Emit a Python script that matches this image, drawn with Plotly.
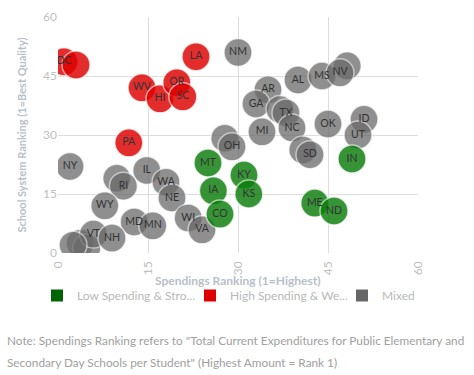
import plotly.graph_objects as go

# Low Spending & Strong Quality (green)
green_states = ["MT", "IA", "CO", "KY", "KS", "ME", "ND", "IN"]
green_spend = [25, 25.9, 27, 31, 31.8, 42.8, 46, 49]
green_quality = [22.9, 15.8, 9.9, 19.8, 15, 12.7, 10.7, 23.9]

# High Spending & Weak Quality (red)
red_states = ["DC", "AK", "WV", "HI", "OR", "SC", "LA", "PA"]
red_spend = [1, 3, 14, 17, 19.8, 20.8, 23, 11.8]
red_quality = [48.6, 47.8, 42, 39.2, 43.3, 39.7, 49.9, 28]

# Mixed (gray)
gray_states = ["NM", "AZ", "AL", "MS", "NV", "AR", "GA", "FL", "TX", "NC", "MI",
               "OK", "ID", "UT", "DE", "SD", "MO", "OH", "NY", "CT", "IL", "RI",
               "WA", "NE", "WY", "MD", "MN", "WI", "VA", "MA", "NJ", "VT", "NH", "ME2"]
gray_spend = [30, 48.2, 40, 44, 47, 35, 33, 37, 38, 39, 34,
              45, 51, 50, 40.8, 42, 27.8, 29, 2, 9.8, 14.8, 10.9,
              18, 19, 7.8, 12.7, 15.8, 21.7, 24, 3.7, 4.8, 5.9, 9, 2.5]
gray_quality = [51, 47.6, 44, 45, 45.8, 41.5, 37.9, 36.5, 35.6, 31.8, 30.8,
                32.8, 34, 30, 26.2, 25, 29.2, 27, 22, 19, 21, 17,
                18, 14, 12, 7.9, 6.9, 8.9, 5.9, 2.5, 1.3, 4.8, 3.8, 2]

# labels that are covered by neighbouring circles in the original
hidden_labels = {"AZ", "FL", "DE", "MO", "CT", "MA", "NJ", "ME2", "AK"}

x_ticks = [0, 15, 30, 45, 60]
y_ticks = [0, 15, 30, 45, 60]

x_title = "Spendings Ranking (1=Highest)"
y_title = "School System Ranking (1=Best Quality)"

legend_names = ["Low Spending & Stro...", "High Spending & We...", "Mixed"]
legend_colors = ["#006400", "#dd0000", "#666666"]

FONT = "Lato"
MARKER_SIZE = 28
W, H = 474, 375

fig = go.Figure()

def add_group(xs, ys, names, color, opacity):
    labels = ["" if n in hidden_labels else n for n in names]
    fig.add_trace(go.Scatter(
        x=xs, y=ys, mode="markers+text", text=labels,
        textposition="middle center",
        textfont=dict(family=FONT, size=10.5, color="#333333"),
        marker=dict(size=MARKER_SIZE, color=color, opacity=opacity,
                    line=dict(color="rgba(255,255,255,0.7)", width=1.5)),
        showlegend=False, hoverinfo="text", cliponaxis=True,
    ))

add_group(gray_spend, gray_quality, gray_states, "#6a6a6a", 0.75)
add_group(red_spend, red_quality, red_states, "#dd0000", 0.82)
add_group(green_spend, green_quality, green_states, "#0a7d0a", 0.82)

legend_keys = ["legend", "legend2", "legend3"]
legend_x = [37, 190, 342]  # pixel left edge of each legend entry
for name, col, key in zip(legend_names, legend_colors, legend_keys):
    fig.add_trace(go.Scatter(
        x=[None], y=[None], mode="markers", name=name, legend=key,
        marker=dict(symbol="square", size=12, color=col),
    ))

legend_common = dict(
    orientation="h", xref="container", yref="container",
    xanchor="left", y=1 - 281 / H, yanchor="top",
    font=dict(size=12, color="#b8b8b8", family=FONT),
    itemsizing="constant", bgcolor="rgba(0,0,0,0)",
)
legends = {key: dict(legend_common, x=lx / W) for key, lx in zip(legend_keys, legend_x)}

note_font = dict(size=11.8, color="#a0a0a0", family=FONT)

fig.update_layout(
    width=W, height=H,
    margin=dict(l=58, r=56, t=17, b=122, autoexpand=False),
    paper_bgcolor="white", plot_bgcolor="white",
    font=dict(family=FONT, color="#b0b0b0"),
    xaxis=dict(
        range=[0, 60], tickvals=x_ticks, tickangle=-90, automargin=False,
        ticklabelstandoff=5,
        tickfont=dict(size=12, color="#c0c0c0"),
        showgrid=True, gridcolor="#dddddd", zeroline=False,
        showline=False, ticks="",
    ),
    yaxis=dict(
        range=[0, 60], tickvals=y_ticks, automargin=False,
        tickfont=dict(size=12, color="#c0c0c0"),
        showgrid=True, gridcolor="#dddddd", zeroline=False,
        showline=False, ticks="",
        title=dict(text="<b>" + y_title + "</b>",
                   font=dict(size=11, color="#b8c0c8"), standoff=14),
    ),
    annotations=[
        dict(text="<b>" + x_title + "</b>",
             xref="paper", yref="paper", x=0.5, y=(253 - 280) / 236,
             xanchor="center", yanchor="middle", showarrow=False,
             font=dict(size=12, color="#b8c0c8", family=FONT)),
        dict(text='Note: Spendings Ranking refers to "Total Current Expenditures for Public Elementary and',
             xref="paper", yref="paper", x=(5 - 58) / 360, y=(253 - 340) / 236,
             xanchor="left", yanchor="middle", showarrow=False, font=note_font),
        dict(text='Secondary Day Schools per Student" (Highest Amount = Rank 1)',
             xref="paper", yref="paper", x=(5 - 58) / 360, y=(253 - 362) / 236,
             xanchor="left", yanchor="middle", showarrow=False, font=note_font),
    ],
    **legends,
)

fig.write_html("out.html", config={"displayModeBar": False},
               post_script="document.body.style.margin='0';")
